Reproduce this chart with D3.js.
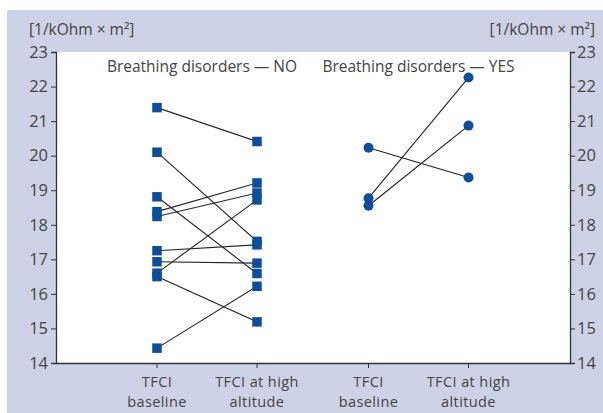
<!DOCTYPE html>
<html>
<head>
<meta charset="utf-8">
<script src="https://cdn.jsdelivr.net/npm/d3@7"></script>
<style>
  body { margin: 0; background: #fff; }
  text { font-family: "Open Sans", "Noto Sans", sans-serif; fill: #444; }
</style>
</head>
<body>
<div id="chart"></div>
<script>
// Groups and the two measurements inside each group
const groups = ["NO", "YES"];
const measures = ["baseline", "altitude"];
const measureLabels = {
    baseline: ["TFCI", "baseline"],
    altitude: ["TFCI at high", "altitude"]
};

// Breathing disorders — NO (squares): baseline -> high altitude
const noBaseline = [21.39, 20.10, 18.81, 18.38, 18.24, 17.25, 16.93, 16.60, 16.50, 14.43];
const noAltitude = [20.41, 17.52, 16.59, 19.21, 18.92, 17.42, 16.89, 18.72, 15.19, 16.22];

// Breathing disorders — YES (circles): baseline -> high altitude
const yesBaseline = [20.23, 18.77, 18.55];
const yesAltitude = [19.37, 22.26, 20.87];

const yTicks = [14, 15, 16, 17, 18, 19, 20, 21, 22, 23];
const unitLabel = "[1/kOhm × m²]";

const width = 603, height = 413;
const margin = { top: 52, right: 33, bottom: 50, left: 56 };

const svg = d3.select("#chart").append("svg")
    .attr("width", width)
    .attr("height", height);

// lavender panel
svg.append("rect")
    .attr("x", 7).attr("y", 10)
    .attr("width", width - 7).attr("height", height - 10)
    .attr("fill", "#cdd2e6");

// white plot area
svg.append("rect")
    .attr("x", margin.left).attr("y", margin.top)
    .attr("width", width - margin.left - margin.right)
    .attr("height", height - margin.top - margin.bottom)
    .attr("fill", "#fff");

const y = d3.scaleLinear()
    .domain([14, 23])
    .range([height - margin.bottom, margin.top]);

// group centres, then the two measures around each centre
const xGroup = d3.scalePoint().domain(groups).range([207, 418.5]);
const xInner = d3.scalePoint().domain(measures).range([-50, 50]);
const xPos = (g, m) => xGroup(g) + xInner(m);

// axes
const yLeft = d3.axisLeft(y).tickValues(yTicks).tickSize(5).tickPadding(3);
const yRight = d3.axisRight(y).tickValues(yTicks).tickSize(5).tickPadding(2);

const gl = svg.append("g")
    .attr("transform", `translate(${margin.left},0)`)
    .call(yLeft);
const gr = svg.append("g")
    .attr("transform", `translate(${width - margin.right},0)`)
    .call(yRight);
[gl, gr].forEach(g => {
    g.select(".domain").attr("stroke", "#333").attr("stroke-width", 1.3);
    g.selectAll(".tick line").attr("stroke", "#333");
    g.selectAll(".tick text")
        .attr("font-size", 16.5)
        .attr("fill", "#444")
        .attr("font-family", "'Open Sans', sans-serif");
});

// bottom axis
const xAxis = d3.axisBottom(d3.scaleLinear().domain([0, 1]).range([margin.left, width - margin.right]))
    .tickValues([]).tickSizeOuter(0);
const gb = svg.append("g")
    .attr("transform", `translate(0,${height - margin.bottom})`)
    .call(xAxis);
gb.select(".domain").attr("stroke", "#333").attr("stroke-width", 1.3);

groups.forEach(g => {
    measures.forEach(m => {
        const cx = xPos(g, m);
        svg.append("line")
            .attr("x1", cx).attr("x2", cx)
            .attr("y1", height - margin.bottom)
            .attr("y2", height - margin.bottom + 5)
            .attr("stroke", "#333");
        measureLabels[m].forEach((line, i) => {
            svg.append("text")
                .attr("x", cx)
                .attr("y", 387 + i * 20)
                .attr("text-anchor", "middle")
                .attr("font-size", 14.5)
                .attr("letter-spacing", 0.4)
                .text(line);
        });
    });
});

// unit labels
svg.append("text")
    .attr("x", 29).attr("y", 35)
    .attr("font-size", 15.5)
    .text(unitLabel);
svg.append("text")
    .attr("x", 595).attr("y", 35)
    .attr("text-anchor", "end")
    .attr("font-size", 15.5)
    .text(unitLabel);

// group titles
svg.append("text")
    .attr("x", xGroup("NO") - 5).attr("y", 72)
    .attr("text-anchor", "middle")
    .attr("font-size", 15.5)
    .text("Breathing disorders — NO");
svg.append("text")
    .attr("x", xGroup("YES")).attr("y", 72)
    .attr("text-anchor", "middle")
    .attr("font-size", 15.5)
    .text("Breathing disorders — YES");

const markColor = "#0c4e9a";

// NO group
const noPairs = noBaseline.map((b, i) => ({ b, a: noAltitude[i] }));
svg.append("g").selectAll("line")
    .data(noPairs).enter().append("line")
    .attr("x1", xPos("NO", "baseline")).attr("y1", d => y(d.b))
    .attr("x2", xPos("NO", "altitude")).attr("y2", d => y(d.a))
    .attr("stroke", "#222").attr("stroke-width", 1.1);
const sq = 9.5;
svg.append("g").selectAll("rect")
    .data(noBaseline.map(v => ["baseline", v]).concat(noAltitude.map(v => ["altitude", v])))
    .enter().append("rect")
    .attr("x", d => xPos("NO", d[0]) - sq / 2)
    .attr("y", d => y(d[1]) - sq / 2)
    .attr("width", sq).attr("height", sq)
    .attr("fill", markColor);

// YES group
const yesPairs = yesBaseline.map((b, i) => ({ b, a: yesAltitude[i] }));
svg.append("g").selectAll("line")
    .data(yesPairs).enter().append("line")
    .attr("x1", xPos("YES", "baseline")).attr("y1", d => y(d.b))
    .attr("x2", xPos("YES", "altitude")).attr("y2", d => y(d.a))
    .attr("stroke", "#222").attr("stroke-width", 1.1);
svg.append("g").selectAll("circle")
    .data(yesBaseline.map(v => ["baseline", v]).concat(yesAltitude.map(v => ["altitude", v])))
    .enter().append("circle")
    .attr("cx", d => xPos("YES", d[0]))
    .attr("cy", d => y(d[1]))
    .attr("r", 5)
    .attr("fill", markColor);
</script>
</body>
</html>
